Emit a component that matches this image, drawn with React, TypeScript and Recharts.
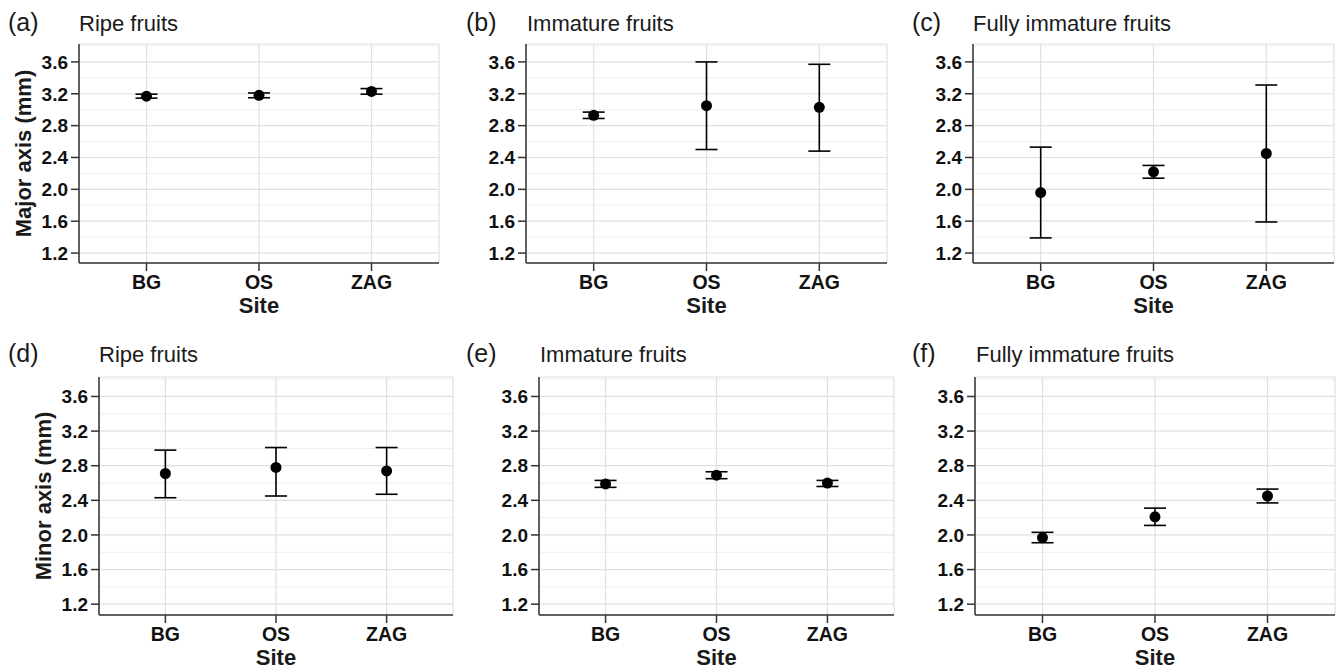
import React from 'react';
import { ScatterChart, Scatter, XAxis, YAxis, CartesianGrid, ErrorBar } from 'recharts';

// ---------- data ----------
const sites = ['BG', 'OS', 'ZAG'];
const xPositions = [1, 2, 3];
const xDomain = [0.4, 3.6];
const yTicks = [1.2, 1.6, 2.0, 2.4, 2.8, 3.2, 3.6];
const yMinorGrid = [1.4, 1.8, 2.2, 2.6, 3.0, 3.4, 3.8];
const yDomain = [1.075, 3.825];

const panelLetters = ['(a)', '(b)', '(c)', '(d)', '(e)', '(f)'];
const panelTitles = [
  'Ripe fruits', 'Immature fruits', 'Fully immature fruits',
  'Ripe fruits', 'Immature fruits', 'Fully immature fruits',
];
const yAxisTitles = ['Major axis (mm)', 'Minor axis (mm)'];
const xAxisTitle = 'Site';

// Major axis
const majorRipeMean = [3.17, 3.18, 3.23];
const majorRipeLow = [3.145, 3.15, 3.195];
const majorRipeHigh = [3.195, 3.21, 3.265];

const majorImmMean = [2.93, 3.05, 3.03];
const majorImmLow = [2.89, 2.5, 2.48];
const majorImmHigh = [2.97, 3.6, 3.57];

const majorFullMean = [1.96, 2.22, 2.45];
const majorFullLow = [1.39, 2.14, 1.59];
const majorFullHigh = [2.53, 2.3, 3.31];

// Minor axis
const minorRipeMean = [2.71, 2.78, 2.74];
const minorRipeLow = [2.43, 2.45, 2.47];
const minorRipeHigh = [2.98, 3.01, 3.01];

const minorImmMean = [2.59, 2.69, 2.6];
const minorImmLow = [2.55, 2.65, 2.56];
const minorImmHigh = [2.63, 2.73, 2.63];

const minorFullMean = [1.97, 2.21, 2.45];
const minorFullLow = [1.91, 2.11, 2.37];
const minorFullHigh = [2.03, 2.31, 2.53];

const build = (mean: number[], low: number[], high: number[]) =>
  sites.map((s, i) => ({
    site: s,
    x: xPositions[i],
    y: mean[i],
    err: [mean[i] - low[i], high[i] - mean[i]],
  }));

const panelData = [
  build(majorRipeMean, majorRipeLow, majorRipeHigh),
  build(majorImmMean, majorImmLow, majorImmHigh),
  build(majorFullMean, majorFullLow, majorFullHigh),
  build(minorRipeMean, minorRipeLow, minorRipeHigh),
  build(minorImmMean, minorImmLow, minorImmHigh),
  build(minorFullMean, minorFullLow, minorFullHigh),
];

// ---------- layout ----------
const FONT = '"Liberation Sans", Arial, Helvetica, sans-serif';

type Cfg = {
  L: number; T: number; W: number; H: number;
  plotLeft: number; plotRight: number; plotTop: number; plotBottom: number;
  letterX: number; titleX: number; titleY: number;
};

const layout: Cfg[] = [
  { L: 0, T: 40, W: 445, H: 283, plotLeft: 79, plotRight: 439, plotTop: 44, plotBottom: 263, letterX: 8, titleX: 79, titleY: 31 },
  { L: 450, T: 40, W: 443, H: 283, plotLeft: 526, plotRight: 887, plotTop: 44, plotBottom: 263, letterX: 466, titleX: 527, titleY: 31 },
  { L: 890, T: 40, W: 450, H: 283, plotLeft: 973, plotRight: 1334, plotTop: 44, plotBottom: 263, letterX: 912, titleX: 973, titleY: 31 },
  { L: 0, T: 372, W: 459, H: 299, plotLeft: 99, plotRight: 453, plotTop: 377, plotBottom: 615, letterX: 8, titleX: 99, titleY: 362 },
  { L: 460, T: 372, W: 440, H: 299, plotLeft: 539, plotRight: 894, plotTop: 377, plotBottom: 615, letterX: 466, titleX: 540, titleY: 362 },
  { L: 900, T: 372, W: 440, H: 299, plotLeft: 975, plotRight: 1335, plotTop: 377, plotBottom: 615, letterX: 912, titleX: 976, titleY: 362 },
];

const yTitlePos = [
  { x: 31, y: 153.5 },
  { x: 51, y: 496 },
];

const Dot = (p: any) => <circle cx={p.cx} cy={p.cy} r={5.5} fill="#000" />;

function Panel({ cfg, data }: { cfg: Cfg; data: any[] }) {
  const mTop = cfg.plotTop - cfg.T;
  const plotH = cfg.plotBottom - cfg.plotTop;
  const xAxisH = cfg.H - mTop - plotH;
  const mRight = cfg.L + cfg.W - cfg.plotRight;
  const axisStyle = { stroke: '#333', strokeWidth: 1.5 };
  return (
    <div style={{ position: 'absolute', left: cfg.L, top: cfg.T, width: cfg.W, height: cfg.H }}>
      <ScatterChart
        width={cfg.W}
        height={cfg.H}
        margin={{ top: mTop, right: mRight, bottom: 0, left: 0 }}
      >
        <CartesianGrid
          horizontalValues={yMinorGrid}
          vertical={false}
          stroke="#eeeeee"
          strokeWidth={1}
        />
        <CartesianGrid stroke="#e0e0e0" strokeWidth={1.2} />
        <XAxis
          type="number"
          dataKey="x"
          domain={xDomain}
          ticks={xPositions}
          interval={0}
          allowDataOverflow
          height={xAxisH}
          tickFormatter={(v: number) => sites[v - 1]}
          axisLine={axisStyle}
          tickLine={axisStyle}
          tickSize={8}
          tickMargin={4}
          tick={{ fill: '#111', fontSize: 19.5, fontWeight: 700, fontFamily: FONT }}
        />
        <YAxis
          type="number"
          dataKey="y"
          domain={yDomain}
          ticks={yTicks}
          interval={0}
          allowDataOverflow
          width={cfg.plotLeft - cfg.L}
          tickFormatter={(v: number) => v.toFixed(1)}
          axisLine={axisStyle}
          tickLine={axisStyle}
          tickSize={8}
          tickMargin={3}
          tick={{ fill: '#111', fontSize: 19, fontWeight: 700, fontFamily: FONT }}
        />
        <Scatter data={data} isAnimationActive={false} shape={Dot}>
          <ErrorBar
            dataKey="err"
            direction="y"
            width={11}
            stroke="#000"
            strokeWidth={1.6}
            isAnimationActive={false}
          />
        </Scatter>
      </ScatterChart>
    </div>
  );
}

export default function App() {
  return (
    <div style={{ position: 'absolute', left: 0, top: 0, width: 1340, height: 671, background: '#fff', overflow: 'hidden' }}>
      {layout.map((cfg, i) => (
        <Panel key={i} cfg={cfg} data={panelData[i]} />
      ))}
      <svg
        width={1340}
        height={671}
        style={{ position: 'absolute', left: 0, top: 0, pointerEvents: 'none' }}
      >
        {layout.map((cfg, i) => (
          <g key={i} fontFamily={FONT} fill="#1a1a1a">
            <text x={cfg.letterX} y={cfg.titleY} fontSize={25}>{panelLetters[i]}</text>
            <text x={cfg.titleX} y={cfg.titleY} fontSize={22}>{panelTitles[i]}</text>
            <text
              x={(cfg.plotLeft + cfg.plotRight) / 2}
              y={cfg.plotBottom + 50}
              fontSize={22}
              fontWeight={700}
              textAnchor="middle"
            >
              {xAxisTitle}
            </text>
          </g>
        ))}
        {yTitlePos.map((p, i) => (
          <text
            key={i}
            x={p.x}
            y={p.y}
            transform={`rotate(-90, ${p.x}, ${p.y})`}
            textAnchor="middle"
            fontSize={22}
            fontWeight={700}
            fontFamily={FONT}
            fill="#1a1a1a"
          >
            {yAxisTitles[i]}
          </text>
        ))}
      </svg>
    </div>
  );
}
